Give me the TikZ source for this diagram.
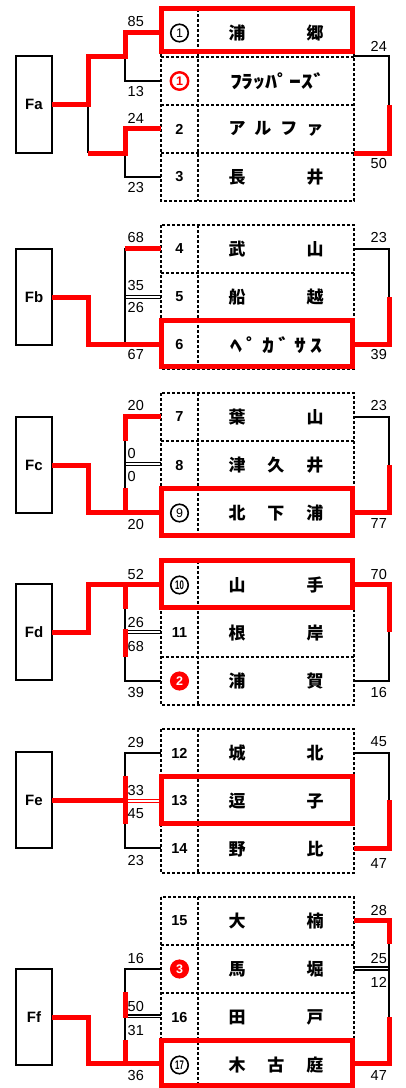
\documentclass[tikz,border=0pt]{standalone}
\usepackage{graphicx}
\usepackage{fontspec}
\setmainfont{Liberation Sans}
\newfontfamily\jp{Noto Sans CJK JP}
\definecolor{rd}{RGB}{255,0,0}
\tikzset{
  thinln/.style={line width=1.5pt, black},
  redln/.style={line width=5pt, rd, line join=miter},
  dbl/.style={line width=1.2pt},
  gridln/.style={line width=1.3pt, dash pattern=on 3pt off 2pt},
  cell/.style={minimum height=48pt, inner sep=0pt, outer sep=0pt},
  numcell/.style={cell, minimum width=37pt, font=\bfseries\fontsize{14.5}{14.5}\selectfont},
  namecell/.style={cell, minimum width=156pt, font=\jp\bfseries\fontsize{17}{18}\selectfont},
  fbox/.style={draw, line width=1.5pt, minimum width=36pt, minimum height=96pt, font=\bfseries\fontsize{15}{15}\selectfont, inner sep=0pt, outer sep=0pt},
  redbox/.style={draw=rd, line width=5pt},
  scl/.style={font=\fontsize{14.5}{14.5}\selectfont, inner sep=0pt, anchor=west},
  circ/.style={circle, draw, line width=1.6pt, minimum size=17.5pt, inner sep=0pt, font=\fontsize{12.5}{12.5}\selectfont},
  circb/.style={circ, font=\bfseries\fontsize{12.5}{12.5}\selectfont},
}
\newcommand\tabrow[4]{%
  \node[numcell] (n#1) at (179.5,#2) {#3};
  \node[namecell] (t#1) at (276,#2) {#4};}
\newcommand\fw[1]{\hbox to 95pt{#1}}
\newcommand\hw[1]{\hbox to 92pt{#1}}
\newcommand\hk[1]{\scalebox{1.4}[1.08]{#1}}
\newcommand\tabgrid[2]{% top, rows
  \draw[gridln] (161,#1) rectangle (354,#1+48*#2);
  \draw[gridln] (198,#1) -- (198,#1+48*#2);
  \foreach \r in {1,...,\numexpr#2-1\relax} \draw[gridln] (161,#1+48*\r) -- (354,#1+48*\r);}
\begin{document}
\begin{tikzpicture}[x=1pt,y=-1pt]
\useasboundingbox (0,0) rectangle (405,1088);
% table grids
\tabgrid{9}{4}
\tabgrid{225}{3}
\tabgrid{393}{3}
\tabgrid{561}{3}
\tabgrid{729}{3}
\tabgrid{897}{4}
% tables
\tabrow{1}{33}{}{\fw{浦\hfill 郷}}
\tabrow{2}{81}{}{\hw{\hk{ﾌ}\hfill \hk{ﾗ}\hfill \hk{ｯ}\hfill \hk{ﾊ}\hfill \hk{ﾟ}\hfill \hk{ｰ}\hfill \hk{ｽ}\hfill \hk{ﾞ}}}
\tabrow{3}{129}{2}{\fw{ア\hfill ル\hfill フ\hfill ァ}}
\tabrow{4}{177}{3}{\fw{長\hfill 井}}
\tabrow{5}{249}{4}{\fw{武\hfill 山}}
\tabrow{6}{297}{5}{\fw{船\hfill 越}}
\tabrow{7}{345}{6}{\hw{\hk{ﾍ}\hfill \hk{ﾟ}\hfill \hk{ｶ}\hfill \hk{ﾞ}\hfill \hk{ｻ}\hfill \hk{ｽ}}}
\tabrow{8}{417}{7}{\fw{葉\hfill 山}}
\tabrow{9}{465}{8}{\fw{津\hfill 久\hfill 井}}
\tabrow{10}{513}{}{\fw{北\hfill 下\hfill 浦}}
\tabrow{11}{585}{}{\fw{山\hfill 手}}
\tabrow{12}{633}{11}{\fw{根\hfill 岸}}
\tabrow{13}{681}{}{\fw{浦\hfill 賀}}
\tabrow{14}{753}{12}{\fw{城\hfill 北}}
\tabrow{15}{801}{13}{\fw{逗\hfill 子}}
\tabrow{16}{849}{14}{\fw{野\hfill 比}}
\tabrow{17}{921}{15}{\fw{大\hfill 楠}}
\tabrow{18}{969}{}{\fw{馬\hfill 堀}}
\tabrow{19}{1017}{16}{\fw{田\hfill 戸}}
\tabrow{20}{1065}{}{\fw{木\hfill 古\hfill 庭}}
% circled numbers
\node[circ] at (n1) {1};
\node[circb, draw=rd, text=rd, line width=2.4pt] at (n2) {1};
\node[circ] at (n10) {9};
\node[circb] at (n11) {\scalebox{0.62}[1]{10}};
\node[circb, fill=rd, draw=rd, text=white] at (n13) {2};
\node[circb, fill=rd, draw=rd, text=white] at (n18) {3};
\node[circb] at (n20) {\scalebox{0.62}[1]{17}};
% group boxes
\node[fbox, minimum height=97pt] (Fa) at (34,104.5) {Fa};
\node[fbox] (Fb) at (34,297) {Fb};
\node[fbox] (Fc) at (34,465) {Fc};
\node[fbox] (Fd) at (34,632) {Fd};
\node[fbox] (Fe) at (34,800) {Fe};
\node[fbox] (Ff) at (34,1017) {Ff};
% ---------- Fa
\draw[thinln] (125,56) |- (n2.west);
\draw[thinln] (88,104.5) -- (88,153);
\draw[thinln] (125,153) |- (n4.west);
\draw[redln] (Fa.east) -| (88,56) -| (125,32) -- (161,32);
\draw[redln] (88,153) -| (125,128) -- (161,128);
\draw[thinln] (354,56) -| (389,105);
\draw[redln] (389,105) |- (354,153);
% ---------- Fb
\draw[thinln] (125,248) -- (125,345);
\draw[dbl] (125,295.3) -- (161,295.3) (125,298.2) -- (161,298.2);
\draw[redln] (125,248) -- (161,248);
\draw[redln] (Fb.east) -| (88,344) -- (161,344);
\draw[thinln] (t5.east) -| (389,297);
\draw[redln] (389,297) |- (354,344);
% ---------- Fc
\draw[thinln] (125,416) -- (125,512);
\draw[dbl] (125,462.5) -- (161,462.5) (125,465.5) -- (161,465.5);
\draw[redln] (125,441) |- (161,416);
\draw[redln] (125,488) -- (125,512);
\draw[redln] (Fc.east) -| (88,512) -- (161,512);
\draw[thinln] (t8.east) -| (389,465);
\draw[redln] (389,465) |- (354,512);
% ---------- Fd
\draw[thinln] (125,584) |- (n13.west);
\draw[dbl] (125,630.5) -- (161,630.5) (125,633.4) -- (161,633.4);
\draw[redln] (Fd.east) -| (88,584) -- (161,584);
\draw[redln] (125,584) -- (125,609);
\draw[redln] (125,629) -- (125,657);
\draw[redln] (354,584) -| (389,632);
\draw[thinln] (389,632) |- (t13.east);
% ---------- Fe
\draw[thinln] (n14.west) -| (125,848) -- (161,848);
\draw[redln] (125,776) -- (125,824);
\draw[redln] (Fe.east) -- (125,800);
\draw[dbl, rd] (125,799.3) -- (161,799.3) (125,802.3) -- (161,802.3);
\draw[thinln] (t14.east) -| (389,800);
\draw[redln] (389,800) |- (354,848.5);
% ---------- Ff
\draw[thinln] (n18.west) -| (125,1063);
\draw[dbl] (125,1015) -- (161,1015) (125,1017.8) -- (161,1017.8);
\draw[redln] (125,992) -- (125,1018);
\draw[redln] (125,1040) -- (125,1063.5);
\draw[redln] (Ff.east) -| (88,1063.5) -- (161,1063.5);
\draw[thinln] (389,944) -- (389,1017);
\draw[dbl] (354,967) -- (389,967) (354,969.9) -- (389,969.9);
\draw[redln] (354,920.7) -| (389,944);
\draw[redln] (389,1017) |- (354,1063.5);
% red boxes
\draw[redbox] (161.5,8.3) rectangle (352,51);
\draw[redbox] (161.5,320) rectangle (352,366);
\draw[redbox] (161.5,488.5) rectangle (352,535);
\draw[redbox] (161.5,560) rectangle (352,607);
\draw[redbox] (161.5,776) rectangle (352,823);
\draw[redbox] (161.5,1040.5) rectangle (352,1085);
% scores left
\foreach \v/\yy [count=\k] in {85/22,13/92,24/118,23/188,68/238,35/286,26/308,67/355,20/406,0/453,0/476,20/524,52/574,26/622,68/646,39/692,29/742,33/790,45/814,23/860,16/958,50/1006,31/1030,36/1075}
  \node[scl] (sl\k) at (127.5,\yy) {\v};
% scores right
\foreach \v/\yy [count=\k] in {24/46,50/163.5,23/238,39/355,23/406,77/524,70/574,16/692,45/742,47/863,28/910,25/958,12/982,47/1075}
  \node[scl] (sr\k) at (370.5,\yy) {\v};
\end{tikzpicture}
\end{document}
